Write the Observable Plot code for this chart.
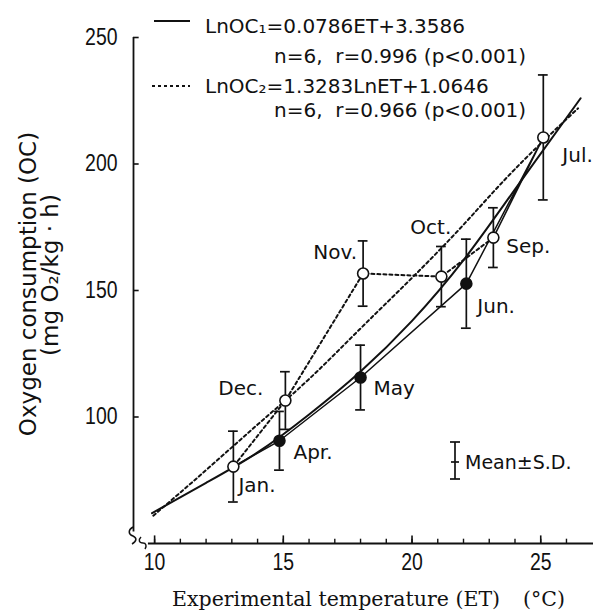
<!DOCTYPE html>
<html>
<head>
<meta charset="utf-8">
<script src="https://cdn.jsdelivr.net/npm/d3@7"></script>
<script src="https://cdn.jsdelivr.net/npm/@observablehq/plot@0.6"></script>
<style>
  html, body { margin: 0; padding: 0; background: #fff; }
  #wrap { position: relative; width: 607px; height: 614px; overflow: hidden; }
  #wrap svg { position: absolute; left: 0; top: 0; }
  #overlay { pointer-events: none; }
</style>
</head>
<body>
<div id="wrap"></div>
<script>
// ---- data ----
const months      = ["Jan.", "Apr.", "May", "Jun.", "Jul.", "Sep.", "Oct.", "Nov.", "Dec."];
const temperature = [13.06, 14.85, 18.0, 22.11, 25.1, 23.16, 21.14, 18.1, 15.08];
const oxygen      = [80.4, 90.6, 115.6, 152.7, 210.5, 170.9, 155.5, 156.7, 106.5];
const sdev        = [14.0, 11.6, 12.8, 17.6, 24.7, 11.8, 11.9, 12.9, 11.4];
const filled      = [false, true, true, true, false, false, false, false, false];

// order of the seasonal loop
const warmingPath = ["Jan.", "Apr.", "May", "Jun.", "Jul.", "Sep."];
const coolingPath = ["Sep.", "Oct.", "Nov.", "Dec.", "Jan."];

// fitted curves
const fitET     = [9.9, 12, 14, 16, 18, 20, 22, 24, 26.55];
const fit1OC    = [62, 74, 86, 101, 118, 138, 162, 190, 226];
const fit2ET    = [9.95, 12, 14, 16, 18, 20, 22, 24, 26.45];
const fit2OC    = [61, 79, 97, 115, 135, 155, 176, 198, 222];

const xTicks = [10, 15, 20, 25];
const xMinor = [10, 11, 12, 13, 14, 15, 16, 17, 18, 19, 20, 21, 22, 23, 24, 25, 26];
const yTicks = [100, 150, 200, 250];

// ---- build tables ----
const pts = months.map((m, i) => ({
  m, x: temperature[i], y: oxygen[i], lo: oxygen[i] - sdev[i], hi: oxygen[i] + sdev[i], filled: filled[i]
}));
const byName = Object.fromEntries(pts.map(d => [d.m, d]));
const warm = warmingPath.map(k => byName[k]);
const cool = coolingPath.map(k => byName[k]);
const fit1 = fitET.map((x, i) => ({x, y: fit1OC[i]}));
const fit2 = fit2ET.map((x, i) => ({x, y: fit2OC[i]}));

const xMin = 9.18, xMax = 27.05, xStart = 9.76;
const capHalf = 0.19;
const tickFont = "'Liberation Sans', Arial, sans-serif";
const labFont = "'DejaVu Sans', sans-serif";

const labelPlace = {
  "Jan.": {dx: 5,  dy: 19, a: "start"},
  "Apr.": {dx: 14, dy: 12, a: "start"},
  "May":  {dx: 13, dy: 11, a: "start"},
  "Jun.": {dx: 11, dy: 23, a: "start"},
  "Jul.": {dx: 19, dy: 18, a: "start"},
  "Sep.": {dx: 13, dy: 9,  a: "start"},
  "Oct.": {dx: -31, dy: -49, a: "start"},
  "Nov.": {dx: -6, dy: -21, a: "end"},
  "Dec.": {dx: -22, dy: -12, a: "end"}
};

const labelMarks = Object.entries(labelPlace).map(([k, p]) =>
  Plot.text(pts.filter(d => d.m === k), {
    x: "x", y: "y", text: "m", dx: p.dx, dy: p.dy, textAnchor: p.a,
    fontSize: 20, fontFamily: labFont, fill: "#111"
  })
);

const chart = Plot.plot({
  width: 607, height: 614,
  marginLeft: 133, marginRight: 14, marginTop: 37, marginBottom: 71,
  x: {domain: [xMin, xMax], axis: null},
  y: {domain: [50, 250], axis: null},
  style: {background: "transparent", overflow: "visible"},
  marks: [
    // axes
    Plot.ruleX([xMin], {y1: 54.5, y2: 250, stroke: "#111", strokeWidth: 1.8}),
    Plot.ruleY(yTicks, {x1: xMin, x2: xMin + 0.22, stroke: "#111", strokeWidth: 1.6}),
    Plot.text(yTicks, {x: xMin, y: d => d, text: d => String(d), textAnchor: "end", dx: -16,
      fontSize: 23, fontFamily: tickFont, fill: "#111", className: "ticklab"}),
    Plot.ruleY([50], {x1: xStart, x2: xMax, stroke: "#111", strokeWidth: 1.8}),
    Plot.ruleX(xMinor, {y1: 50, y2: 51.7, stroke: "#111", strokeWidth: 1.4}),
    Plot.ruleX(xTicks, {y1: 50, y2: 53, stroke: "#111", strokeWidth: 1.6}),
    Plot.text(xTicks, {x: d => d, y: 50, text: d => String(d), dy: 19,
      fontSize: 23, fontFamily: tickFont, fill: "#111", className: "ticklab"}),
    // fitted curves
    Plot.line(fit1, {x: "x", y: "y", curve: "natural", stroke: "#111", strokeWidth: 2}),
    Plot.line(fit2, {x: "x", y: "y", curve: "natural", stroke: "#111", strokeWidth: 2, strokeDasharray: "3,3"}),
    // seasonal connectors
    Plot.line(warm, {x: "x", y: "y", stroke: "#111", strokeWidth: 1.5}),
    Plot.line(cool, {x: "x", y: "y", stroke: "#111", strokeWidth: 2, strokeDasharray: "3,3"}),
    // error bars
    Plot.ruleX(pts, {x: "x", y1: "lo", y2: "hi", stroke: "#111", strokeWidth: 1.7}),
    Plot.ruleY(pts, {y: "hi", x1: d => d.x - capHalf, x2: d => d.x + capHalf, stroke: "#111", strokeWidth: 1.7}),
    Plot.ruleY(pts, {y: "lo", x1: d => d.x - capHalf, x2: d => d.x + capHalf, stroke: "#111", strokeWidth: 1.7}),
    // points
    Plot.dot(pts, {x: "x", y: "y", r: 5.5, fill: d => d.filled ? "#111" : "#fff", stroke: "#111", strokeWidth: 1.6}),
    ...labelMarks
  ]
});

// narrow the tick numerals (reference uses a condensed face)
d3.select(chart).selectAll(".ticklab text").each(function() {
  const n = this.textContent.length;
  this.setAttribute("textLength", (10.8 * n).toFixed(1));
  this.setAttribute("lengthAdjust", "spacingAndGlyphs");
});

const wrap = document.getElementById("wrap");
wrap.appendChild(chart);

// overlay: titles, legend, axis breaks
const ns = "http://www.w3.org/2000/svg";
const ov = document.createElementNS(ns, "svg");
ov.setAttribute("id", "overlay");
ov.setAttribute("width", 607);
ov.setAttribute("height", 614);
ov.innerHTML = `
  <g fill="none" stroke="#111" stroke-width="1.5">
    <path d="M133,527 C128,530 128,534 133,536 C137,538 137,541 132,544"/>
    <path d="M141,537 C138,540 139,543 143,543 C146,543 147,546 145,549"/>
  </g>
  <g font-family="'DejaVu Sans', sans-serif" fill="#111" font-size="20" style="white-space:pre">
    <line x1="154" y1="21" x2="190" y2="21" stroke="#111" stroke-width="2"/>
    <text x="205" y="33">LnOC₁=0.0786ET+3.3586</text>
    <text x="274" y="63" xml:space="preserve">n=6,  r=0.996 (p&lt;0.001)</text>
    <line x1="152" y1="86" x2="190" y2="86" stroke="#111" stroke-width="2" stroke-dasharray="3,3"/>
    <text x="205" y="93">LnOC₂=1.3283LnET+1.0646</text>
    <text x="274" y="117" xml:space="preserve">n=6,  r=0.966 (p&lt;0.001)</text>
    <line x1="455" y1="442" x2="455" y2="479" stroke="#111" stroke-width="1.7"/>
    <line x1="450" y1="442" x2="460" y2="442" stroke="#111" stroke-width="1.7"/>
    <line x1="450" y1="479" x2="460" y2="479" stroke="#111" stroke-width="1.7"/>
    <line x1="451" y1="462" x2="459" y2="462" stroke="#111" stroke-width="1.7"/>
    <text x="465" y="469" font-size="19">Mean±S.D.</text>
  </g>
  <g font-family="'DejaVu Sans', sans-serif" fill="#111" font-size="23" text-anchor="middle">
    <text transform="translate(36,284) rotate(-90)">Oxygen consumption (OC)</text>
    <text transform="translate(58,275) rotate(-90)">(mg O₂/kg · h)</text>
  </g>
  <g font-family="'DejaVu Serif', serif" fill="#111" font-size="20.5">
    <text x="172" y="606">Experimental temperature (ET)</text>
    <text x="523" y="606">(°C)</text>
  </g>
`;
wrap.appendChild(ov);
</script>
</body>
</html>
